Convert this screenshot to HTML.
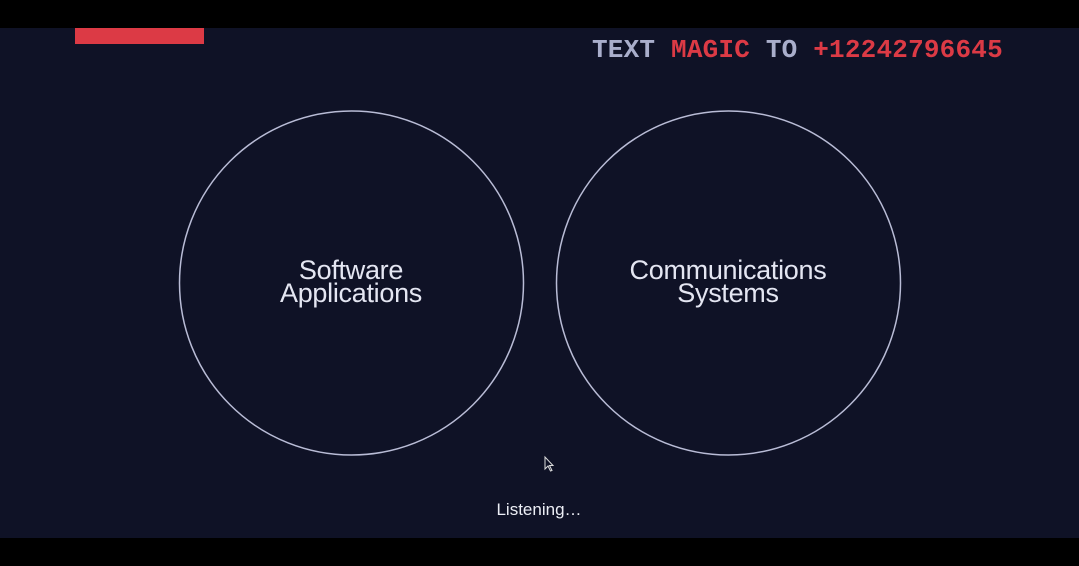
<!DOCTYPE html>
<html><head><style>
body{margin:0;width:1079px;height:566px;background:#000;position:relative;overflow:hidden;font-family:"Liberation Sans",sans-serif}
#main{position:absolute;left:0;top:28px;width:1079px;height:510px;background:#0f1226}
.red{position:absolute;left:75px;top:28px;width:129px;height:16px;background:#dc3a45}
.hdr{position:absolute;left:592px;top:35px;font:bold 26px "Liberation Mono",monospace;color:#a9aecb;white-space:pre;letter-spacing:0.2px}
.hdr span{color:#dc3a45}
.lbl{position:absolute;width:300px;text-align:center;color:#e4e6f2;font-size:27px;line-height:23px;letter-spacing:-0.3px}
.ls{position:absolute;left:460px;width:158px;text-align:center;top:500px;color:#eceef5;font-size:17px}
</style></head><body>
<div id="main"></div>
<div class="red"></div>
<div class="hdr">TEXT <span>MAGIC</span> TO <span>+12242796645</span></div>
<svg width="1079" height="566" style="position:absolute;left:0;top:0">
<circle cx="351.5" cy="283" r="172" fill="none" stroke="#b9bcd6" stroke-width="1.5"/>
<circle cx="728.5" cy="283" r="172" fill="none" stroke="#b9bcd6" stroke-width="1.5"/>
<path d="M545 457 L545 469 L548 466 L550.5 471 L552 470.5 L549.5 465.5 L553 465.5 Z" fill="#0f1226" stroke="#ddd" stroke-width="1"/>
</svg>
<div class="lbl" style="left:201px;top:259px">Software<br>Applications</div>
<div class="lbl" style="left:578px;top:259px">Communications<br>Systems</div>
<div class="ls">Listening…</div>
</body></html>
